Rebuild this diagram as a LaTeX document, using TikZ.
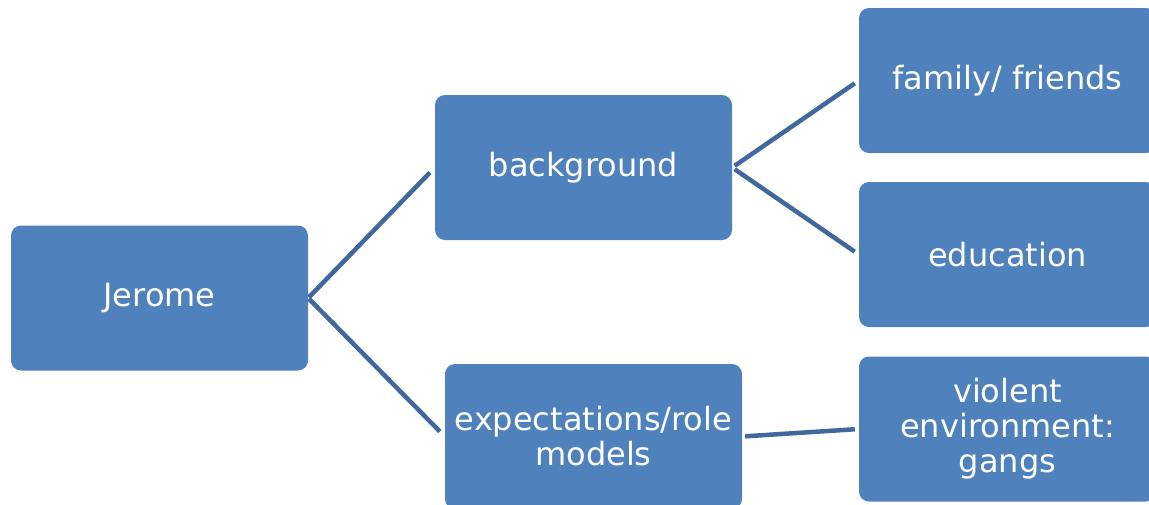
\documentclass[tikz,border=0pt]{standalone}
\usepackage{fontspec}
\setmainfont{DejaVu Sans}
\definecolor{boxblue}{RGB}{79,129,189}
\definecolor{linkblue}{RGB}{64,104,158}
\begin{document}
\begin{tikzpicture}[x=1pt,y=-1pt,
  box/.style={fill=boxblue, draw=none, rounded corners=10pt, minimum width=297pt, minimum height=145pt,
    text=white, align=center, inner sep=0pt, font=\fontsize{32}{35}\selectfont},
  link/.style={draw=linkblue, line width=4.5pt}]
\useasboundingbox (0,0) rectangle (1149,504);
\clip (0,0) rectangle (1149,504);
\node[box] (jerome) at (159.5,298) {Jerome};
\node[box] (background) at (583.5,167.5) {background};
\node[box] (expect) at (593.5,436.5) {expectations/role\\models};
\node[box] (family) at (1007.5,80.5) {family/ friends};
\node[box] (education) at (1007.5,254.5) {education};
\node[box] (violent) at (1007.5,429) {violent\\environment:\\gangs};
\draw[link, shorten <=1pt, shorten >=7pt] (jerome.east) -- (background.west);
\draw[link, shorten <=1pt, shorten >=7pt] (jerome.east) -- (expect.west);
\draw[link, shorten <=3pt, shorten >=5pt] (background.east) -- (family.west);
\draw[link, shorten <=3pt, shorten >=5pt] (background.east) -- (education.west);
\draw[link, shorten <=3pt, shorten >=4pt] (expect.east) -- (violent.west);
\end{tikzpicture}
\end{document}
